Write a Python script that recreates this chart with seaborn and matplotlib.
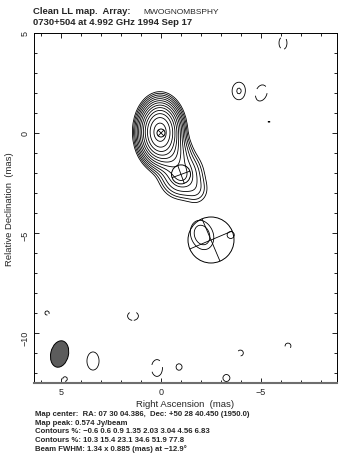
import numpy as np
import matplotlib
matplotlib.use("Agg")
import matplotlib.pyplot as plt
from matplotlib.patches import Ellipse
from matplotlib.ticker import MultipleLocator
from matplotlib import font_manager
import seaborn as sns

# map header
source = "0730+504"
freq_ghz = 4.992
obs_date = "1994 Sep 17"
array_name = "MWOGNOMBSPHY"
map_peak = 0.574
levels_pct = [-0.6, 0.6, 0.9, 1.35, 2.03, 3.04, 4.56, 6.83,
              10.3, 15.4, 23.1, 34.6, 51.9, 77.8]

# clean image features: position (mas), peak (% of map peak), sigma (mas), PA (deg)
feat_x = [0.05, -0.5, -1.0, -1.8,
          -2.05, -3.5, -3.9, -5.4, 3.4, -0.9, -3.27,
          0.2, 1.4, 5.7, 4.8, -6.1, -5.0, -3.97, -6.35]
feat_y = [0.05, -1.0, -2.07, -2.9,
          -5.1, -5.1, 2.1, 0.55, -11.4, -11.7, -12.25,
          -11.75, -9.15, -9.0, -12.3, 4.5, 2.0, -11.0, -10.65]
feat_amp = [100.0, 8.0, 5.0, 1.0,
            1.25, 0.7, 0.95, 0.62, 0.8, 0.7, 0.7,
            -0.95, -0.8, -0.7, -0.7, -0.85, -0.95, -0.72, -0.72]
feat_sx = [0.43, 0.45, 0.55, 0.40,
           0.46, 0.30, 0.36, 0.20, 0.40, 0.28, 0.32,
           0.29, 0.36, 0.20, 0.22, 0.24, 0.31, 0.25, 0.25]
feat_sy = [0.63, 0.50, 0.60, 0.45,
           0.62, 0.30, 0.46, 0.20, 0.60, 0.30, 0.32,
           0.44, 0.29, 0.20, 0.22, 0.39, 0.44, 0.25, 0.25]
feat_pa = [0, 0, 0, 0,
           20, 0, 0, 0, 0, 0, 0,
           0, 0, 0, 0, 0, -20, 0, 0]

# model components (circular gaussians)
comp_x = [0.0, -1.0, -2.5]
comp_y = [0.0, -2.07, -5.35]
comp_d = [0.4, 0.95, 2.3]
comp_pa = [45, 20, 23]

# restoring beam
beam_maj, beam_min, beam_pa = 1.34, 0.885, -12.9
beam_x, beam_y = 5.07, -11.05


def make_image(xx, yy):
    img = np.zeros_like(xx)
    for x0, y0, a, sx, sy, pa in zip(feat_x, feat_y, feat_amp, feat_sx, feat_sy, feat_pa):
        t = np.deg2rad(pa)
        dx, dy = xx - x0, yy - y0
        along = dx * np.sin(t) + dy * np.cos(t)
        across = dx * np.cos(t) - dy * np.sin(t)
        img += a * np.exp(-0.5 * ((across / sx) ** 2 + (along / sy) ** 2))
    return img


sns.set_style("ticks")
plt.rcParams["font.family"] = ["Liberation Sans", "DejaVu Sans"]
plt.rcParams["lines.scale_dashes"] = False
plt.rcParams["lines.dashed_pattern"] = [8, 5]

# narrow face for the array string, if there is one
installed = {f.name for f in font_manager.fontManager.ttflist}
narrow = "Liberation Sans Narrow" if "Liberation Sans Narrow" in installed else "Liberation Sans"
narrow_size = 6.8 if narrow == "Liberation Sans Narrow" else 6

fig = plt.figure(figsize=(3.41, 4.60), dpi=100)
ax = fig.add_axes([34 / 341, 76 / 460, 303 / 341, 350 / 460])

xs = np.arange(-9.2, 6.8, 0.08)
ys = np.arange(-12.8, 5.3, 0.08)
X, Y = np.meshgrid(xs, ys)
Z = make_image(X, Y)

styles = ["dashed" if lv < 0 else "solid" for lv in levels_pct]
ax.contour(X, Y, Z, levels=levels_pct, colors="k", linewidths=0.6, linestyles=styles)

# model component markers
for cx, cy, d, pa in zip(comp_x, comp_y, comp_d, comp_pa):
    ax.add_patch(Ellipse((cx, cy), d, d, fill=False, ec="k", lw=0.7))
    for ang in (pa, pa + 90):
        t = np.deg2rad(ang)
        ux, uy = np.sin(t) * d / 2, np.cos(t) * d / 2
        ax.plot([cx - ux, cx + ux], [cy - uy, cy + uy], color="k", lw=0.6)

ax.add_patch(Ellipse((beam_x, beam_y), beam_min, beam_maj, angle=-beam_pa,
                     fc="#5c5c5c", ec="k", lw=0.7))

ax.set_xlim(6.35, -8.8)
ax.set_ylim(-12.5, 5.0)
ax.xaxis.set_major_locator(MultipleLocator(5))
ax.xaxis.set_minor_locator(MultipleLocator(1))
ax.yaxis.set_major_locator(MultipleLocator(5))
ax.yaxis.set_minor_locator(MultipleLocator(1))
ax.tick_params(which="both", direction="in", top=True, right=True,
               labelsize=6.5, pad=3, width=0.6, color="k")
ax.tick_params(which="major", length=3.4)
ax.tick_params(which="minor", length=2.4)
ax.tick_params(axis="y", labelrotation=90)
for s in ax.spines.values():
    s.set_linewidth(0.7)
    s.set_color("k")
ax.spines["bottom"].set_color("#6e6e6e")
ax.spines["bottom"].set_linewidth(1.5)

ax.set_xlabel("Right Ascension  (mas)", fontsize=6.8, labelpad=2)
ax.set_ylabel("Relative Declination  (mas)", fontsize=6.8, labelpad=5)

# header
fig.text(33 / 341, 1 - 12 / 460, "Clean LL map.  Array:", fontsize=6.8, weight="bold", va="center")
fig.text(143 / 341, 1 - 12 / 460, array_name, fontsize=narrow_size, va="center",
         family=[narrow, "DejaVu Sans"])
fig.text(33 / 341, 1 - 22.5 / 460, f"{source} at {freq_ghz:.3f} GHz {obs_date}",
         fontsize=6.8, weight="bold", va="center")

# footer
fmt = lambda v: f"{v:g}".replace("-", "\u2212")
foot = [
    "Map center:  RA: 07 30 04.386,  Dec: +50 28 40.450 (1950.0)",
    f"Map peak: {map_peak} Jy/beam",
    "Contours %: " + " ".join(fmt(v) for v in levels_pct[:8]),
    "Contours %: " + " ".join(fmt(v) for v in levels_pct[8:]),
    f"Beam FWHM: {beam_maj} x {beam_min} (mas) at {fmt(beam_pa)}\u00b0",
]
for i, line in enumerate(foot):
    fig.text(35 / 341, 1 - (414.5 + 8.7 * i) / 460, line, fontsize=5.6,
             weight="bold", va="center")

fig.savefig("out.png", dpi=100)
